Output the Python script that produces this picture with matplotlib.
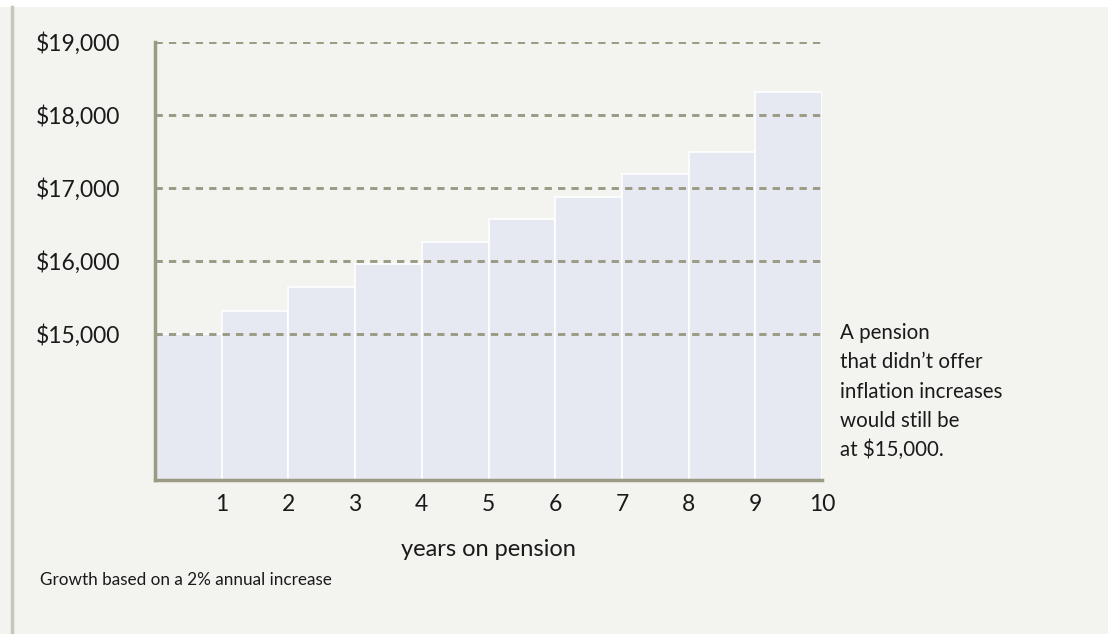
import matplotlib.pyplot as plt
from matplotlib.patches import Rectangle
from matplotlib.lines import Line2D

plt.rcParams['font.family'] = ['Lato', 'DejaVu Sans']

years = [0, 1, 2, 3, 4, 5, 6, 7, 8, 9]
pension = [15000, 15310, 15640, 15960, 16260, 16570, 16880, 17190, 17500, 18310]
tick_years = [1, 2, 3, 4, 5, 6, 7, 8, 9, 10]
grid_levels = [15000, 16000, 17000, 18000, 19000]
note_lines = ["A pension", "that didn\u2019t offer", "inflation increases",
              "would still be", "at $15,000."]

W, H = 1108, 634
fig = plt.figure(figsize=(W / 100, H / 100), dpi=100)
fig.patch.set_facecolor('white')

# panel background and left rule
fig.patches.append(Rectangle((0, 0), 1, 1 - 7 / H, transform=fig.transFigure,
                             facecolor='#f3f3ef', edgecolor='none', zorder=-2))
fig.lines.append(Line2D([12 / W, 12 / W], [0, 1 - 7 / H], transform=fig.transFigure,
                        color='#c6c6ba', linewidth=2.5, zorder=-1))

ax = fig.add_axes([155 / W, 1 - 480 / H, (822 - 155) / W, (480 - 42) / H])
ax.set_facecolor('none')

ax.bar(years, pension, width=1, align='edge', bottom=0,
       color='#e6e8f2', edgecolor='white', linewidth=1.2, zorder=1)

for lv in grid_levels:
    ax.axhline(lv, color='#9b9a84', linestyle=(0, (2.5, 2.1)), linewidth=2.1, zorder=2)

ax.set_xlim(0, 10)
ax.set_ylim(13000, 19000)
ax.set_yticks(grid_levels)
ax.set_yticklabels(['${:,}'.format(v) for v in grid_levels])
ax.set_xticks(tick_years)
ax.set_xticklabels([str(t) for t in tick_years])
ax.tick_params(length=0, labelsize=16.5, colors='#1a1a1a')
ax.tick_params(axis='y', pad=25)
ax.tick_params(axis='x', pad=10)

for s in ['top', 'right']:
    ax.spines[s].set_visible(False)
for s in ['left', 'bottom']:
    ax.spines[s].set_color('#9b9a84')
    ax.spines[s].set_linewidth(2.5)
    ax.spines[s].set_zorder(3)

ax.set_xlabel('years on pension', fontsize=17, color='#1a1a1a', labelpad=17)

for i, line in enumerate(note_lines):
    fig.text(840 / W, 1 - (333 + 29.3 * i) / H, line, fontsize=14.8,
             color='#1a1a1a', va='center', ha='left')

fig.text(40 / W, 1 - 580 / H, 'Growth based on a 2% annual increase',
         fontsize=12.3, color='#1a1a1a', va='center', ha='left')

fig.savefig('out.png', dpi=100, facecolor=fig.get_facecolor())
